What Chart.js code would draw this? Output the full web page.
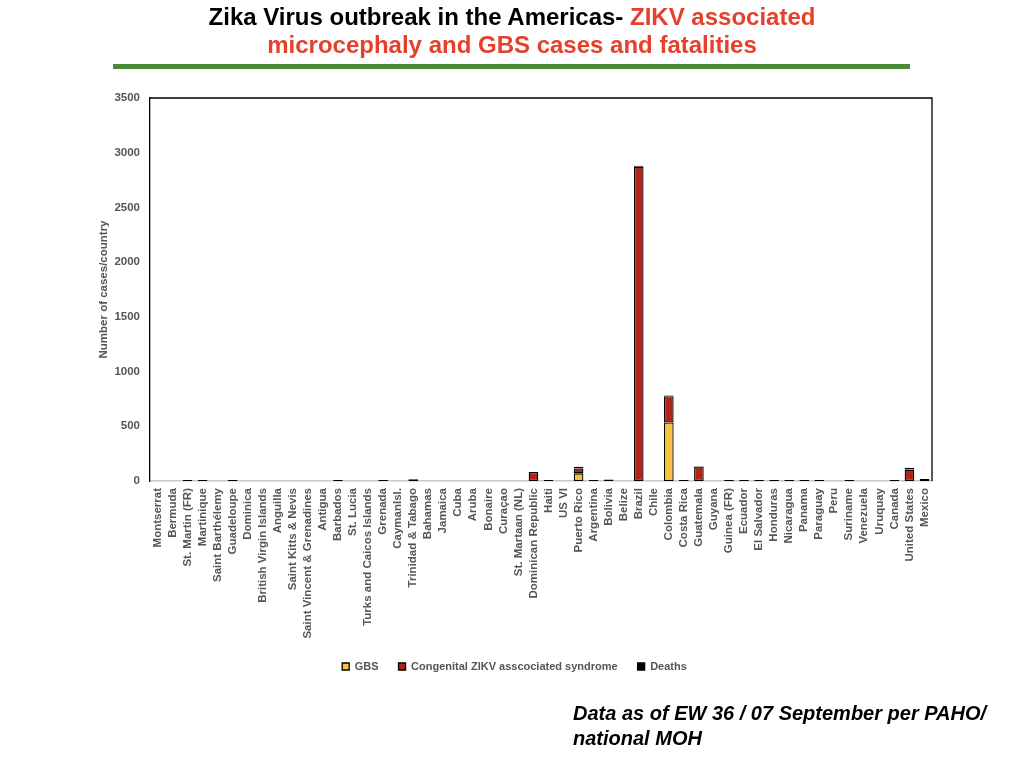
<!DOCTYPE html>
<html>
<head>
<meta charset="utf-8">
<script src="https://cdn.jsdelivr.net/npm/chart.js@4/dist/chart.umd.min.js"></script>
<style>
  body { margin: 0; background: #fff; font-family: "Liberation Sans", Arial, sans-serif; }
  #wrap { position: relative; width: 1024px; height: 768px; overflow: hidden; }
  #chart { position: absolute; left: 0; top: 0; }
  .title { position: absolute; left: 0; width: 1024px; text-align: center; font-weight: bold; font-size: 24px; line-height: 28px; }
  .red { color: #E5402B; }
  #rule { position: absolute; left: 113px; top: 64px; width: 797px; height: 5px; background: #4A8C35; }
  #note { position: absolute; left: 573px; top: 701px; font-weight: bold; font-style: italic; font-size: 20px; line-height: 25px; color: #000; }
</style>
</head>
<body>
<div id="wrap">
  <canvas id="chart" width="1024" height="768"></canvas>
  <div class="title" style="top:3px">Zika Virus outbreak in the Americas- <span class="red">ZIKV associated</span></div>
  <div class="title red" style="top:31px">microcephaly and GBS cases and fatalities</div>
  <div id="rule"></div>
  <div id="note">Data as of EW 36 / 07 September per PAHO/<br>national MOH</div>
</div>
<script>
const countries = ["Montserrat", "Bermuda", "St. Martin (FR)", "Martinique", "Saint Barthélemy", "Guadeloupe",
  "Dominica", "British Virgin Islands", "Anguilla", "Saint Kitts & Nevis", "Saint Vincent & Grenadines",
  "Antigua", "Barbados", "St. Lucia", "Turks and Caicos Islands", "Grenada", "CaymanIsl.", "Trinidad & Tabago",
  "Bahamas", "Jamaica", "Cuba", "Aruba", "Bonaire", "Curaçao", "St. Martaan (NL)", "Dominican Republic",
  "Haiti", "US VI", "Puerto Rico", "Argentina", "Bolivia", "Belize", "Brazil", "Chile", "Colombia",
  "Costa Rica", "Guatemala", "Guyana", "Guinea (FR)", "Ecuador", "El Salvador", "Honduras", "Nicaragua",
  "Panama", "Paraguay", "Peru", "Suriname", "Venezuela", "Uruquay", "Canada", "United States", "Mexico"];

const gbs = [0, 0, 0, 0, 0, 0,
  0, 0, 0, 0, 0,
  0, 0, 0, 0, 0, 0, 0,
  0, 0, 0, 0, 0, 0, 0, 0,
  0, 0, 70, 0, 0, 0, 0, 0, 535,
  0, 0, 0, 0, 0, 0, 0, 0,
  0, 0, 0, 0, 0, 0, 0, 0, 0];

const congenital = [0, 0, 8, 8, 0, 8,
  0, 0, 0, 0, 0,
  0, 8, 0, 0, 8, 0, 15,
  0, 0, 0, 0, 0, 0, 0, 82,
  8, 0, 45, 8, 14, 0, 2872, 0, 240,
  8, 132, 0, 8, 8, 8, 8, 8,
  8, 8, 0, 8, 0, 0, 8, 104, 18];

const deaths = [0, 0, 0, 0, 0, 0,
  0, 0, 0, 0, 0,
  0, 0, 0, 0, 0, 0, 0,
  0, 0, 0, 0, 0, 0, 0, 0,
  0, 0, 15, 0, 0, 0, 10, 0, 6,
  0, 3, 0, 0, 0, 0, 0, 0,
  0, 0, 0, 0, 0, 0, 0, 18, 0];

const yTicks = [0, 500, 1000, 1500, 2000, 2500, 3000, 3500];

const gray = "#555555";
const font = "'Liberation Sans', Arial, sans-serif";

// draws the top and right edges of the plot box
const plotBox = {
  id: "plotBox",
  afterDraw(chart) {
    const a = chart.chartArea, ctx = chart.ctx;
    ctx.save();
    ctx.strokeStyle = "#000";
    ctx.lineWidth = 1.3;
    ctx.beginPath();
    ctx.moveTo(a.left, a.top);
    ctx.lineTo(a.right, a.top);
    ctx.lineTo(a.right, a.bottom);
    ctx.stroke();
    ctx.restore();
  }
};

function ds(label, data, color) {
  return {
    label: label,
    data: data,
    backgroundColor: color,
    borderColor: "#000",
    borderWidth: 1.3,
    borderSkipped: false,
    categoryPercentage: 0.8,
    barPercentage: 0.8
  };
}

new Chart(document.getElementById("chart"), {
  type: "bar",
  data: {
    labels: countries,
    datasets: [
      ds("GBS", gbs, "#F5C342"),
      ds("Congenital ZIKV asscociated syndrome", congenital, "#B2241A"),
      ds("Deaths", deaths, "#000000")
    ]
  },
  options: {
    responsive: false,
    animation: false,
    layout: { padding: { left: 97, right: 92, top: 98, bottom: 86 } },
    plugins: {
      tooltip: { enabled: false },
      legend: {
        position: "bottom",
        labels: {
          boxWidth: 7, boxHeight: 7, padding: 20,
          color: gray,
          font: { family: font, size: 11, weight: "bold" }
        }
      }
    },
    scales: {
      x: {
        stacked: true,
        grid: { display: false, drawTicks: false },
        border: { display: true, color: "#c8c8c8", width: 1.5 },
        ticks: {
          autoSkip: false, minRotation: 90, maxRotation: 90, padding: 7,
          color: gray,
          font: { family: font, size: 11.5, weight: "bold" }
        },
        afterFit(scale) { scale.height = 160; }
      },
      y: {
        stacked: true,
        min: 0, max: 3500,
        afterBuildTicks(scale) { scale.ticks = yTicks.map(v => ({ value: v })); },
        grid: { display: false, drawTicks: false },
        border: { display: true, color: "#000", width: 1.3 },
        ticks: {
          padding: 10, color: gray,
          callback: v => String(v),
          font: { family: font, size: 11.5, weight: "bold" }
        },
        title: {
          display: true, text: "Number of cases/country", color: gray,
          padding: 0,
          font: { family: font, size: 11.5, weight: "bold" }
        },
        afterFit(scale) { scale.width = 53; }
      }
    }
  },
  plugins: [plotBox]
});
</script>
</body>
</html>
